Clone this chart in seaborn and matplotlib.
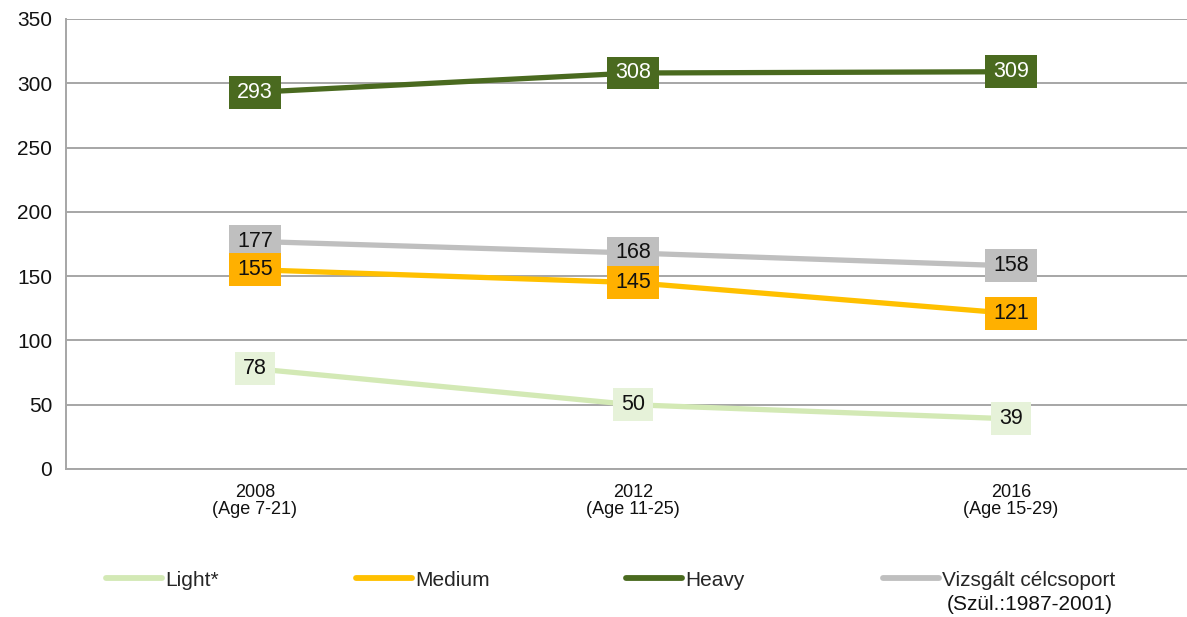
import matplotlib
matplotlib.use("Agg")
import matplotlib.pyplot as plt
from matplotlib.lines import Line2D
import seaborn as sns
import pandas as pd

# Data
periods = ["2008\n(Age 7-21)", "2012\n(Age 11-25)", "2016\n(Age 15-29)"]
light = [78, 50, 39]
medium = [155, 145, 121]
heavy = [293, 308, 309]
target_group = [177, 168, 158]

series_names = ["Light*", "Medium", "Heavy", "Vizsgált célcsoport"]
line_colors = ["#D3E9B5", "#FFC000", "#4A6A1F", "#BFBFBF"]
box_colors = ["#E6F2D9", "#FFB000", "#4A6A1F", "#BFBFBF"]
text_colors = ["#111111", "#111111", "#FFFFFF", "#111111"]
label_layers = [6, 6, 6, 5]  # target-group labels sit beneath the others

sns.set_theme(style="white")
plt.rcParams["font.family"] = ["Liberation Sans", "DejaVu Sans"]

values = [light, medium, heavy, target_group]
df = pd.DataFrame({
    "x": [i for _ in values for i in range(len(periods))],
    "value": [v for s in values for v in s],
    "series": [n for n, s in zip(series_names, values) for _ in s],
})

fig = plt.figure(figsize=(11.87, 6.17), dpi=100)
ax = fig.add_axes([66 / 1187, 1 - 469 / 617, (1200 - 66) / 1187, 450 / 617])

sns.lineplot(data=df, x="x", y="value", hue="series", hue_order=series_names,
             palette=dict(zip(series_names, line_colors)), linewidth=3.8,
             legend=False, ax=ax, zorder=3)

# Value labels in coloured boxes
for s, bc, tc, z in zip(values, box_colors, text_colors, label_layers):
    for i, v in enumerate(s):
        ax.text(i, v, f"{v}", ha="center", va="center", fontsize=15.5, color=tc,
                zorder=z,
                bbox=dict(boxstyle="square,pad=0.38", facecolor=bc,
                          edgecolor="none", mutation_aspect=0.72))

ax.set_xlim(-0.5, 2.5)
ax.set_ylim(0, 350)
ax.set_yticks(range(0, 351, 50))
ax.set_xticks(range(len(periods)))
ax.set_xticklabels(periods, fontsize=13, color="#111111", linespacing=1.0)
ax.set_xticks([-0.5, 0.5, 1.5, 2.5], minor=True)
ax.tick_params(axis="x", which="major", length=0, pad=11)
ax.tick_params(axis="x", which="minor", length=5, width=1.2, color="#A6A6A6", direction="out")
ax.tick_params(axis="y", length=5, width=1.2, color="#A6A6A6", direction="out",
               labelsize=15, labelcolor="#111111", pad=5)
ax.set_xlabel("")
ax.set_ylabel("")
ax.grid(axis="y", color="#A6A6A6", linewidth=1.4)
ax.set_axisbelow(True)
for side in ["top", "right"]:
    ax.spines[side].set_visible(False)
for side in ["left", "bottom"]:
    ax.spines[side].set_color("#A6A6A6")
    ax.spines[side].set_linewidth(1.4)

# Legend entries spread along the bottom
legend_x = [106, 356, 626, 883]
legend_labels = ["Light*", "Medium", "Heavy", "Vizsgált célcsoport"]
for lx, lbl, c in zip(legend_x, legend_labels, line_colors):
    handle = Line2D([0], [0], color=c, linewidth=4.2, solid_capstyle="round")
    fig.legend([handle], [lbl], loc="center left",
               bbox_to_anchor=(lx / 1187, 1 - 580 / 617),
               frameon=False, fontsize=15, handlelength=2.7, handletextpad=0.15,
               borderpad=0, borderaxespad=0)
fig.text(947 / 1187, 1 - 605 / 617, "(Szül.:1987-2001)", fontsize=15,
         ha="left", va="center", color="#111111")

fig.savefig("out.png", dpi=100)
